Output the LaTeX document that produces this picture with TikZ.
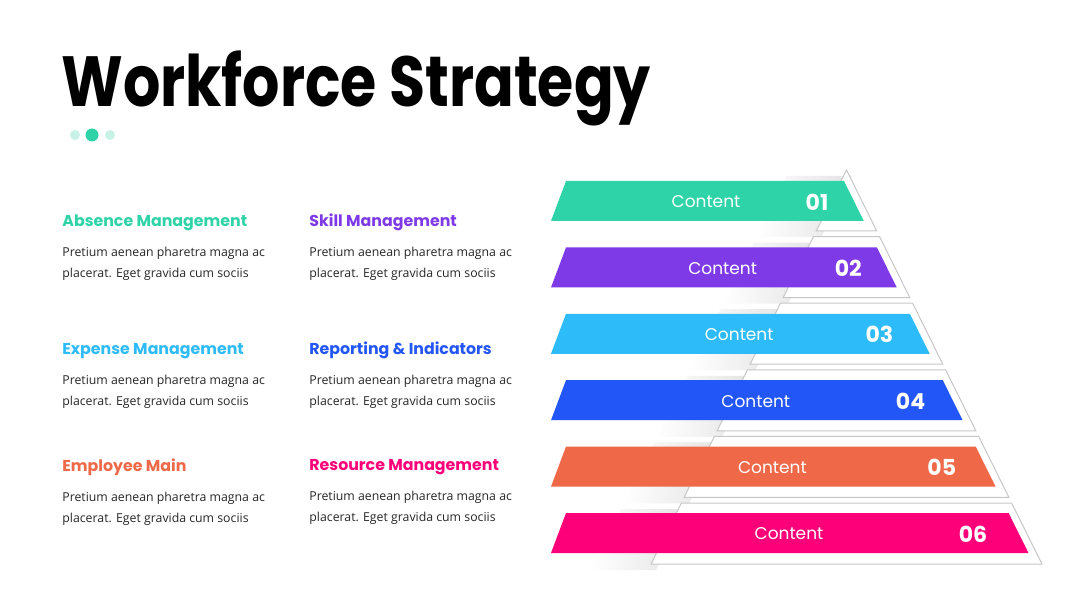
\documentclass[tikz,border=0pt]{standalone}
\usepackage{fontspec}
\newfontfamily\pop{Poppins}
\newfontfamily\txt{Open Sans}
\definecolor{cGreen}{HTML}{2ED3A7}
\definecolor{cPurple}{HTML}{7F3AE8}
\definecolor{cSky}{HTML}{2EBBF9}
\definecolor{cBlue}{HTML}{2356F6}
\definecolor{cOrange}{HTML}{EF6848}
\definecolor{cPink}{HTML}{FD0079}
\definecolor{cMint}{HTML}{C8F2E6}
\tikzset{
  plate/.style={fill=white,draw=black!22,line width=0.5pt},
  shade/.style={left color=white,right color=black!11,draw=none},
  head/.style={anchor=base west,inner sep=0pt,font=\pop\bfseries\fontsize{7.9}{10}\selectfont},
  body/.style={anchor=north west,inner sep=0pt,align=left,text=black!85,
    font=\txt\fontsize{6.15}{10.5}\selectfont},
  lbl/.style={text=white,inner sep=0pt,font=\pop\fontsize{8.5}{10}\selectfont},
  num/.style={text=white,inner sep=0pt,font=\pop\bfseries\fontsize{11}{12}\selectfont}
}
\begin{document}
\begin{tikzpicture}[x=0.5pt,y=-0.5pt]
\useasboundingbox[fill=white] (0,0) rectangle (1080,608);
% title
\node[anchor=base west,inner sep=0pt,xscale=0.826,font=\pop\bfseries\fontsize{35.5}{40}\selectfont] (title) at (61,107) {Workforce Strategy};
\fill[cMint] (75,135) circle (5);
\fill[cGreen] (92,135) circle (6.5);
\fill[cMint] (110,135) circle (5);
% headings and text
\foreach \n/\x/\y/\col/\hd in {a/62/227/cGreen/Absence Management,
  b/309/227/cPurple/Skill Management,
  c/62/355/cSky/Expense Management,
  d/309/355/cBlue/Reporting \& Indicators,
  e/62/472/cOrange/Employee Main,
  f/309/471/cPink/Resource Management}{
  \node[head,text=\col] (h\n) at (\x,\y) {\hd};
  \node[body] (t\n) at (\x,\y+20) {Pretium aenean pharetra magna ac\\placerat. Eget gravida cum sociis};
}
% white pyramid slices with their shadow
\foreach \k in {1,...,6}{
  \pgfmathsetmacro\pt{170+(\k-1)*66.6}
  \pgfmathsetmacro\pb{\pt+61}
  \pgfmathsetmacro\ptl{846.5-0.496*(\pt-170)}
  \pgfmathsetmacro\pbl{846.5-0.496*(\pb-170)}
  \shade[shade] (\ptl-60,\pt+6) -- (\ptl+5,\pt+6) -- (\pbl+5,\pb+6) -- (\pbl-60,\pb+6) -- cycle;
}
\foreach \k in {1,...,6}{
  \pgfmathsetmacro\pt{170+(\k-1)*66.6}
  \pgfmathsetmacro\pb{\pt+61}
  \pgfmathsetmacro\ptl{846.5-0.496*(\pt-170)}
  \pgfmathsetmacro\ptr{846.5+0.496*(\pt-170)}
  \pgfmathsetmacro\pbl{846.5-0.496*(\pb-170)}
  \pgfmathsetmacro\pbr{846.5+0.496*(\pb-170)}
  \draw[plate] (\ptl,\pt) -- (\ptr,\pt) -- (\pbr,\pb) -- (\pbl,\pb) -- cycle;
}
% colour bands
\foreach \k/\col in {1/cGreen,2/cPurple,3/cSky,4/cBlue,5/cOrange,6/cPink}{
  \pgfmathsetmacro\bt{181+(\k-1)*66.4}
  \pgfmathsetmacro\bb{\bt+40}
  \pgfmathsetmacro\btr{846.5+0.496*(\bt-170)-8}
  \pgfmathsetmacro\bbr{846.5+0.496*(\bb-170)-8}
  \fill[\col] (566,\bt) -- (\btr,\bt) -- (\bbr,\bb) -- (551,\bb) -- cycle;
  \node[lbl] (c\k) at (706+16.6*\k-16.6,\bt+21) {Content};
  \node[num] (n\k) at (817+31.2*\k-31.2,\bt+21) {0\k};
}
\end{tikzpicture}
\end{document}
